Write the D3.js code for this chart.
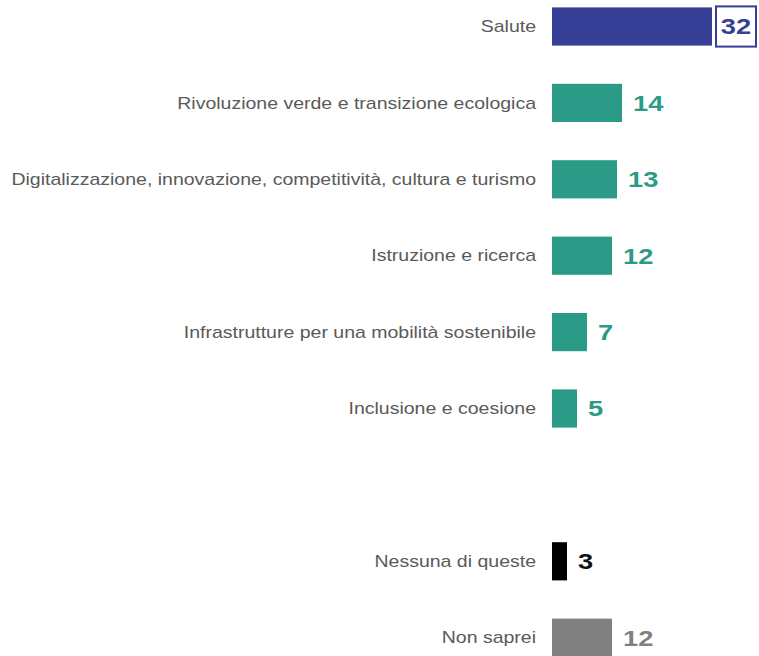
<!DOCTYPE html>
<html>
<head>
<meta charset="utf-8">
<script src="https://cdn.jsdelivr.net/npm/d3@7"></script>
<style>
  body { margin: 0; background: #fff; }
  svg { display: block; }
</style>
</head>
<body>
<div class="svgContainer"></div>
<script>
var w = 759;
var h = 656;

// data
var categories = ["Salute",
                  "Rivoluzione verde e transizione ecologica",
                  "Digitalizzazione, innovazione, competitività, cultura e turismo",
                  "Istruzione e ricerca",
                  "Infrastrutture per una mobilità sostenibile",
                  "Inclusione e coesione"];
var values = [32, 14, 13, 12, 7, 5];
var otherCategories = ["Nessuna di queste", "Non saprei"];
var otherValues = [3, 12];

var rows = categories.map(function (c, i) { return { name: c, value: values[i], group: i === 0 ? "top" : "main" }; });
var others = otherCategories.map(function (c, i) { return { name: c, value: otherValues[i], group: i === 0 ? "none" : "dk" }; });
var all = rows.concat(others);

var barColor = { top: "#343f95", main: "#2b9a86", none: "#000000", dk: "#808080" };
var textColor = { top: "#343f95", main: "#2b9a86", none: "#111111", dk: "#808080" };

var svg = d3.select(".svgContainer")
            .append("svg")
            .attr("width", w)
            .attr("height", h);

var x0 = 552;
var xScale = d3.scaleLinear()
               .domain([0, 32])
               .range([x0, x0 + 160]);

// one blank slot between the two groups
var yDomain = categories.concat(["__gap"]).concat(otherCategories);
var yScale = d3.scaleBand()
               .domain(yDomain)
               .range([-11.7, 675.9])
               .paddingInner(0.5)
               .paddingOuter(0.25);

var catStretch = 1.22;
var valStretch = 1.24;

svg.selectAll("rect.bar")
   .data(all)
   .enter()
   .append("rect")
   .attr("class", "bar")
   .attr("x", xScale(0))
   .attr("y", function (d) { return yScale(d.name); })
   .attr("width", function (d) { return xScale(d.value) - xScale(0); })
   .attr("height", yScale.bandwidth())
   .attr("fill", function (d) { return barColor[d.group]; });

// category labels
svg.selectAll("text.cat")
   .data(all)
   .enter()
   .append("text")
   .attr("class", "cat")
   .attr("transform", function (d) {
       return "translate(536," + (yScale(d.name) + yScale.bandwidth() / 2) + ") scale(" + catStretch + ",1)";
   })
   .attr("dy", "0.35em")
   .attr("text-anchor", "end")
   .style("font-family", "'Liberation Sans', Arial, sans-serif")
   .style("font-size", "16px")
   .style("fill", "#5a5a5a")
   .text(function (d) { return d.name; });

// boxed value for the first bar
var first = all[0];
var boxX = xScale(first.value) + 4;
svg.append("rect")
   .attr("x", boxX)
   .attr("y", yScale(first.name) - 1)
   .attr("width", 40)
   .attr("height", yScale.bandwidth() + 2)
   .attr("fill", "#fff")
   .attr("stroke", barColor.top)
   .attr("stroke-width", 2);

// value labels
svg.selectAll("text.val")
   .data(all)
   .enter()
   .append("text")
   .attr("class", "val")
   .attr("transform", function (d, i) {
       var cx = i === 0 ? boxX + 20 : xScale(d.value) + 11;
       return "translate(" + cx + "," + (yScale(d.name) + yScale.bandwidth() / 2) + ") scale(" + valStretch + ",1)";
   })
   .attr("dy", "0.36em")
   .attr("text-anchor", function (d, i) { return i === 0 ? "middle" : "start"; })
   .style("font-family", "'Liberation Sans', Arial, sans-serif")
   .style("font-size", "22px")
   .style("font-weight", "bold")
   .style("fill", function (d) { return textColor[d.group]; })
   .text(function (d) { return d.value; });
</script>
</body>
</html>
